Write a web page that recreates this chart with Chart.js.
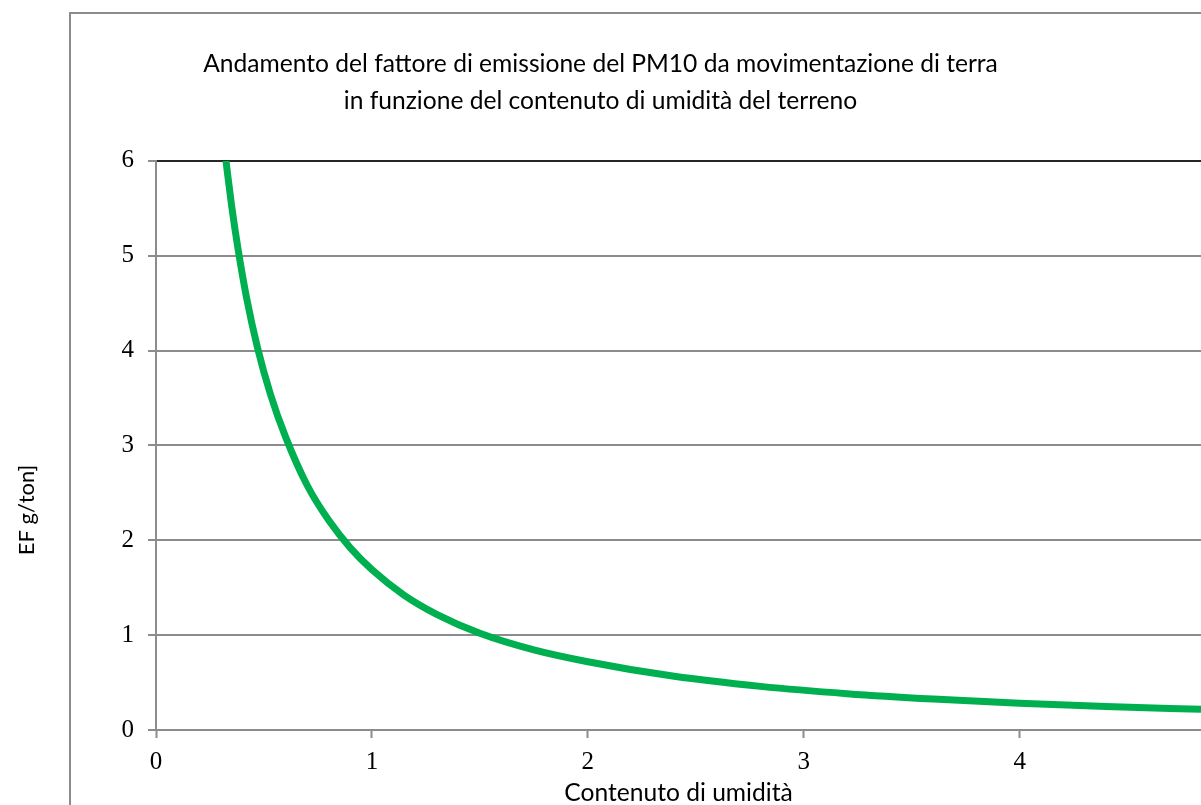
<!DOCTYPE html>
<html>
<head>
<meta charset="utf-8">
<script src="https://cdn.jsdelivr.net/npm/chart.js@4.4.1/dist/chart.umd.min.js"></script>
<style>
  body { margin: 0; background: #fff; overflow: hidden; }
  #wrap { width: 1201px; height: 805px; }
</style>
</head>
<body>
<div id="wrap"><canvas id="chart"></canvas></div>
<script>
// moisture content (x) and PM10 emission factor (y)
const moisture = [0.324, 0.35, 0.38, 0.42, 0.47, 0.53, 0.6, 0.7, 0.8, 0.9, 1.0, 1.15, 1.3, 1.5, 1.75, 2.0, 2.4, 2.8, 3.2, 3.6, 4.0, 4.4, 4.84];
const emission = [6.0, 5.53, 5.07, 4.55, 4.03, 3.54, 3.09, 2.58, 2.21, 1.92, 1.69, 1.42, 1.22, 1.02, 0.845, 0.72, 0.566, 0.46, 0.383, 0.326, 0.282, 0.248, 0.218];
const xTicks = [0, 1, 2, 3, 4];
const yTicks = [0, 1, 2, 3, 4, 5, 6];

const titleLines = [
  "Andamento del fattore di emissione del PM10 da movimentazione di terra",
  "in funzione del contenuto di umidità del terreno"
];
const xTitle = "Contenuto di umidità";
const yTitle = "EF g/ton]";

const sans = "Lato, 'Open Sans', sans-serif";
const serif = "'Liberation Serif', 'DejaVu Serif', serif";
const gray = "#8c8c8c";

// outer frame + rotated y title (drawn by hand so it sits where the original has it)
const frameAndLabel = {
  id: "frameAndLabel",
  beforeDraw(chart) {
    const c = chart.ctx;
    c.save();
    c.strokeStyle = gray;
    c.lineWidth = 2;
    c.beginPath();
    c.moveTo(70, 830);
    c.lineTo(70, 13);
    c.lineTo(1240, 13);
    c.stroke();
    c.restore();
  },
  afterDraw(chart) {
    const c = chart.ctx;
    c.save();
    c.translate(27, 510);
    c.rotate(-Math.PI / 2);
    c.font = "22px " + sans;
    c.fillStyle = "#000";
    c.textAlign = "center";
    c.textBaseline = "middle";
    c.fillText(yTitle, 0, 0);
    c.restore();
  }
};

new Chart(document.getElementById("chart"), {
  type: "line",
  data: {
    datasets: [{
      data: moisture.map((m, i) => ({ x: m, y: emission[i] })),
      borderColor: "#00b050",
      borderWidth: 7,
      pointRadius: 0,
      cubicInterpolationMode: "monotone",
      fill: false
    }]
  },
  options: {
    responsive: true,
    maintainAspectRatio: false,
    animation: false,
    layout: { padding: 0 },
    plugins: {
      legend: { display: false },
      tooltip: { enabled: false },
      title: {
        display: true,
        text: titleLines,
        color: "#000",
        font: { family: sans, size: 24.6, weight: "normal", lineHeight: 1.5 },
        padding: { top: 45.5, bottom: 41.5 }
      }
    },
    scales: {
      x: {
        type: "linear",
        min: 0,
        max: 4.84,
        afterBuildTicks: (s) => { s.ticks = xTicks.map(v => ({ value: v })); },
        afterFit: (s) => { s.height = 75; },
        ticks: {
          color: "#000",
          padding: 9,
          maxRotation: 0,
          font: { family: serif, size: 25 }
        },
        grid: {
          drawOnChartArea: false,
          drawTicks: true,
          tickLength: 8,
          tickColor: gray,
          tickWidth: 2
        },
        border: { color: gray, width: 2 },
        title: {
          display: true,
          text: xTitle,
          color: "#000",
          font: { family: sans, size: 24.6, lineHeight: 1.0 },
          padding: { top: 0, bottom: 0 }
        }
      },
      y: {
        min: 0,
        max: 6,
        afterBuildTicks: (s) => { s.ticks = yTicks.map(v => ({ value: v })); },
        afterFit: (s) => { s.width = 156; },
        ticks: {
          color: "#000",
          padding: 14,
          font: { family: serif, size: 25 }
        },
        grid: {
          color: (ctx) => ctx.tick && ctx.tick.value === 6 ? "#262626" : gray,
          lineWidth: 2,
          tickLength: 8,
          tickColor: gray
        },
        border: { color: gray, width: 2 }
      }
    }
  },
  plugins: [frameAndLabel]
});
</script>
</body>
</html>
